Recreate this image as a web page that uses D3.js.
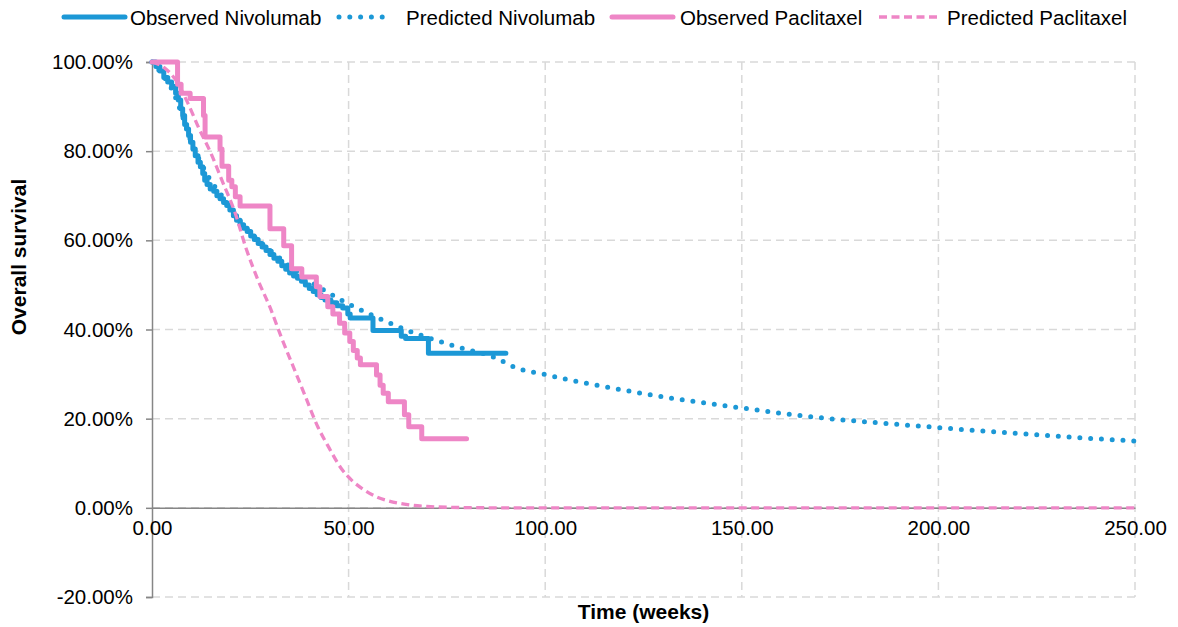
<!DOCTYPE html>
<html>
<head>
<meta charset="utf-8">
<script src="https://cdn.jsdelivr.net/npm/d3@7/dist/d3.min.js"></script>
<style>
  html, body { margin: 0; padding: 0; background: #ffffff; }
  svg { display: block; font-family: "Liberation Sans", Arial, sans-serif; }
</style>
</head>
<body>
<svg id="chart" width="1178" height="627"></svg>
<script>
// Kaplan-Meier steps and fitted curves: [time in weeks, overall survival %]
const observedNivolumab = [
  [0,100],[1,99],[2,98],[3,96.5],[4,95.5],[5,94.5],[6,93],[6.7,91.5],[7.3,89.5],[7.8,88],
  [8.3,86],[8.8,85],[9.3,83.5],[9.8,82],[10.4,80.5],[11,79],[11.7,77.5],[12.3,76.5],[12.9,75],
  [13.4,73.5],[14,72.5],[14.8,71.5],[15.7,71],[16.5,70],[17.3,69.3],[18.2,68.5],[19,67.8],
  [19.8,66.8],[20.7,65.5],[21.5,64.5],[22.4,63.5],[23.3,62.7],[24.2,62],[25.1,61],[26,60.2],
  [27,59.3],[28,58.5],[29,57.7],[30,56.8],[31,56],[32,55.3],[33,54.3],[34,53.5],[35,52.7],
  [36,52],[37,51.5],[38,50.8],[39,50],[40,49.2],[41,48.5],[42,47.8],[43,47.2],[44,46.6],
  [45.5,46],[47,45.3],[48.5,44.8],[49.8,43.5],[50.4,42.6],[56.2,39.8],[63.4,38.5],[64.5,38],
  [70.3,34.7],[90,34.7]
];
const predictedNivolumab = [
  [0,100],[2.5,97.3],[5,94],[7.5,88.5],[10,82],[12.5,77.3],[15,73.3],[17.5,70.3],[20,67.2],[22.5,64.2],
  [25,61.7],[27.5,59.6],[30,57.8],[32.5,56],[35,54.2],[37.5,52.5],[40,51],[42.5,49.5],[45,48.2],
  [47.5,46.9],[50,45.7],[55,43.6],[60,41.6],[65,39.8],[70,38.2],[75,36.8],[80,35.5],[85,34.4],
  [88,33.4],[91,32],[94,31],[97,30.4],[100,29.9],[105,28.9],[110,28],[115,27.2],[120,26.4],
  [125,25.6],[130,24.9],[135,24.2],[140,23.6],[145,23],[150,22.4],[160,21.2],[170,20.2],
  [180,19.4],[190,18.7],[200,18],[210,17.3],[220,16.7],[230,16.1],[240,15.5],[250,15]
];
const observedPaclitaxel = [
  [0,100],[6.5,95],[7.4,93],[9.7,91.8],[13.1,88],[13.5,83.2],[17.3,80.5],[17.8,76.6],
  [19.5,73.5],[20.3,72],[21.2,69.8],[22.4,67.7],[30,62.6],[33.5,58.8],[35.5,53.6],[38.1,51.8],
  [41.8,49.6],[42.7,47.4],[44.7,45.1],[46,43.5],[47.7,41.4],[49,39.2],[50.3,37.3],[51.2,35.3],
  [52.2,33.6],[53,32.1],[57.1,29.8],[58,27.5],[58.8,25.7],[60.1,23.8],[64.2,20.9],[65.3,18.2],
  [68.6,15.5],[80,15.5]
];
const predictedPaclitaxel = [
  [0,100],[3,98.8],[6,96],[9,91],[12,85],[15,79.5],[18,73],[21,66.5],[24,58],[27,51],[30,45],
  [33,38],[36,31.5],[39,25],[42,18.5],[45,13.5],[48,9],[51,6],[54,4],[57,2.5],[60,1.6],
  [65,0.7],[70,0.3],[80,0.05],[90,0],[250,0]
];

const xTicks = [0, 50, 100, 150, 200, 250];
const yTicks = [-20, 0, 20, 40, 60, 80, 100];
const seriesNames = ["Observed Nivolumab", "Predicted Nivolumab", "Observed Paclitaxel", "Predicted Paclitaxel"];

const BLUE = "#1c98d6";
const PINK = "#ee86c6";

const svg = d3.select("#chart");
const margin = { left: 152, right: 43, top: 62, bottom: 30 };
const W = 1178, H = 627;

const x = d3.scaleLinear().domain([0, 250]).range([margin.left, W - margin.right]);
const y = d3.scaleLinear().domain([-20, 100]).range([H - margin.bottom, margin.top]);

// gridlines
const grid = svg.append("g");
grid.selectAll("line.h").data(yTicks).join("line")
  .attr("x1", x(0)).attr("x2", x(250))
  .attr("y1", d => y(d)).attr("y2", d => y(d))
  .attr("stroke", "#d9d9d9").attr("stroke-width", 1.5).attr("stroke-dasharray", "8 5");
grid.selectAll("line.v").data(xTicks.slice(1)).join("line")
  .attr("x1", d => x(d)).attr("x2", d => x(d))
  .attr("y1", y(100)).attr("y2", y(-20))
  .attr("stroke", "#d9d9d9").attr("stroke-width", 1.5).attr("stroke-dasharray", "8 5");

// y axis
const yAxis = svg.append("g").attr("transform", `translate(${x(0)},0)`)
  .call(d3.axisLeft(y).tickValues(yTicks).tickSize(6).tickPadding(13).tickFormat(d => d.toFixed(2) + "%"));
yAxis.select(".domain").attr("stroke", "#868686").attr("stroke-width", 1.5);
yAxis.selectAll(".tick line").attr("stroke", "#868686").attr("stroke-width", 1.5);
yAxis.selectAll(".tick text").attr("font-size", "20.5px").attr("fill", "#000")
  .attr("font-family", "'Liberation Sans', Arial, sans-serif");

// x axis along the zero line
const xAxis = svg.append("g").attr("transform", `translate(0,${y(0)})`)
  .call(d3.axisBottom(x).tickValues(xTicks).tickSize(0).tickPadding(13).tickFormat(d3.format(".2f")));
xAxis.select(".domain").attr("stroke", "#868686").attr("stroke-width", 1.5);
xAxis.selectAll(".tick text").attr("font-size", "20.5px").attr("fill", "#000")
  .attr("font-family", "'Liberation Sans', Arial, sans-serif");

// axis titles
svg.append("text").attr("x", (x(0) + x(250)) / 2).attr("y", 619)
  .attr("text-anchor", "middle").attr("font-size", "21px").attr("font-weight", "bold")
  .text("Time (weeks)");
svg.append("text").attr("transform", "translate(26,257) rotate(-90)")
  .attr("text-anchor", "middle").attr("font-size", "21px").attr("font-weight", "bold")
  .text("Overall survival");

// series
const stepLine = d3.line().x(d => x(d[0])).y(d => y(d[1])).curve(d3.curveStepAfter);
const smoothLine = d3.line().x(d => x(d[0])).y(d => y(d[1])).curve(d3.curveMonotoneX);

const styles = [
  { data: observedNivolumab, gen: stepLine, color: BLUE, width: 5, dash: null, cap: "round" },
  { data: predictedNivolumab, gen: smoothLine, color: BLUE, width: 5, dash: "0 10.8", cap: "round" },
  { data: observedPaclitaxel, gen: stepLine, color: PINK, width: 5, dash: null, cap: "round" },
  { data: predictedPaclitaxel, gen: smoothLine, color: PINK, width: 3.3, dash: "8 4.5", cap: "butt" }
];

styles.forEach(s => {
  svg.append("path").datum(s.data)
    .attr("d", s.gen)
    .attr("fill", "none")
    .attr("stroke", s.color)
    .attr("stroke-width", s.width)
    .attr("stroke-linecap", s.cap)
    .attr("stroke-linejoin", "round")
    .attr("stroke-dasharray", s.dash);
});

// legend
const legendItems = [
  { name: seriesNames[0], x0: 64, x1: 125, tx: 130, st: styles[0] },
  { name: seriesNames[1], x0: 339, x1: 393, tx: 406, st: styles[1] },
  { name: seriesNames[2], x0: 612, x1: 673, tx: 680, st: styles[2] },
  { name: seriesNames[3], x0: 879, x1: 940, tx: 947, st: styles[3] }
];
const legend = svg.append("g");
legendItems.forEach(it => {
  legend.append("line")
    .attr("x1", it.x0).attr("x2", it.x1).attr("y1", 17).attr("y2", 17)
    .attr("stroke", it.st.color).attr("stroke-width", it.st.width)
    .attr("stroke-linecap", it.st.cap).attr("stroke-dasharray", it.st.dash);
  legend.append("text").attr("x", it.tx).attr("y", 24.5)
    .attr("font-size", "20.5px").attr("fill", "#000").text(it.name);
});
</script>
</body>
</html>
